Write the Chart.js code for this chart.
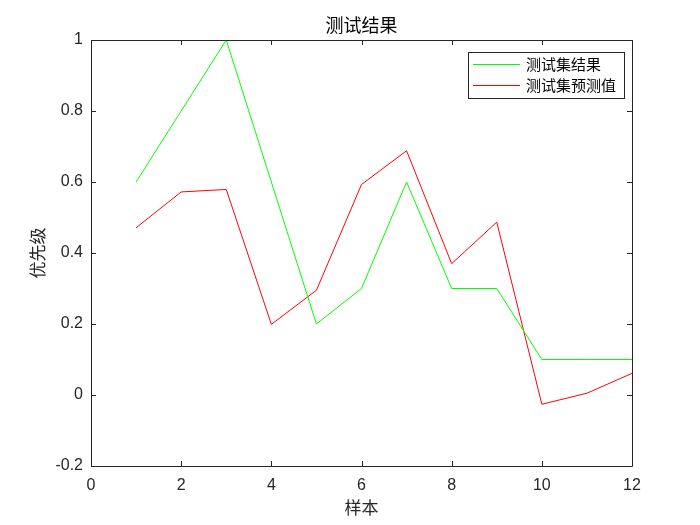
<!DOCTYPE html>
<html>
<head>
<meta charset="utf-8">
<script src="https://cdn.jsdelivr.net/npm/chart.js@4"></script>
<style>
html,body{margin:0;padding:0;background:#fff;}
canvas{display:block;}
</style>
</head>
<body>
<canvas id="c" width="700" height="525"></canvas>
<script>
const samples = [1,2,3,4,5,6,7,8,9,10,11,12];
const actual = [0.6,0.8,1.0,0.6,0.2,0.3,0.6,0.3,0.3,0.1,0.1,0.1];
const predicted = [0.471,0.572,0.579,0.199,0.295,0.593,0.688,0.370,0.487,-0.026,0.005,0.061];
const xTicks = [0,2,4,6,8,10,12];
const yTicks = [-0.2,0,0.2,0.4,0.6,0.8,1];

const axisColor = '#262626';
const cjk = '"Noto Sans CJK SC", "Noto Sans", sans-serif';
const num = '"Liberation Sans", Arial, sans-serif';

const boxTicks = {
  id: 'boxTicks',
  afterDatasetsDraw(chart) {
    const {ctx, chartArea: a, scales} = chart;
    ctx.save();
    ctx.strokeStyle = axisColor;
    ctx.lineWidth = 1;
    ctx.beginPath();
    ctx.rect(Math.round(a.left) + 0.5, Math.round(a.top) + 0.5, Math.round(a.right - a.left), Math.round(a.bottom - a.top));
    const L = 5;
    scales.x.ticks.forEach(t => {
      const px = Math.round(scales.x.getPixelForValue(t.value)) + 0.5;
      ctx.moveTo(px, a.bottom); ctx.lineTo(px, a.bottom - L);
      ctx.moveTo(px, a.top); ctx.lineTo(px, a.top + L);
    });
    scales.y.ticks.forEach(t => {
      const py = Math.round(scales.y.getPixelForValue(t.value)) + 0.5;
      ctx.moveTo(a.left, py); ctx.lineTo(a.left + L, py);
      ctx.moveTo(a.right, py); ctx.lineTo(a.right - L, py);
    });
    ctx.stroke();
    ctx.restore();
  }
};

new Chart(document.getElementById('c'), {
  type: 'line',
  data: {
    labels: samples,
    datasets: [
      {label: '测试集结果', data: samples.map((x,i)=>({x, y: actual[i]})), borderColor: '#00ff00', backgroundColor: '#00ff00', borderWidth: 1, pointRadius: 0, tension: 0, fill: false},
      {label: '测试集预测值', data: samples.map((x,i)=>({x, y: predicted[i]})), borderColor: '#ff0000', backgroundColor: '#ff0000', borderWidth: 1, pointRadius: 0, tension: 0, fill: false}
    ]
  },
  options: {
    responsive: false,
    animation: false,
    devicePixelRatio: 1,
    layout: {padding: {left: 0, right: 68, top: 0, bottom: 0}},
    plugins: {
      title: {display: true, text: '测试结果', fullSize: false, color: '#000', font: {family: cjk, size: 18, weight: 'normal', lineHeight: 1.2}, padding: {top: 14, bottom: 4.4}},
      legend: {display: false},
      tooltip: {enabled: false}
    },
    scales: {
      x: {
        type: 'linear', min: 0, max: 12,
        afterBuildTicks: s => { s.ticks = xTicks.map(v => ({value: v})); },
        afterFit: s => { s.height = 59; },
        grid: {display: false, drawTicks: false},
        border: {display: false},
        ticks: {color: axisColor, padding: 10, font: {family: num, size: 16}, maxRotation: 0, autoSkip: false},
        title: {display: true, text: '样本', color: '#262626', font: {family: cjk, size: 17, lineHeight: 1.2}, padding: {top: 0, bottom: 7}}
      },
      y: {
        type: 'linear', min: -0.2, max: 1,
        afterBuildTicks: s => { s.ticks = yTicks.map(v => ({value: v})); },
        afterFit: s => { s.width = 91; },
        grid: {display: false, drawTicks: false},
        border: {display: false},
        ticks: {color: axisColor, padding: 8, font: {family: num, size: 16}, autoSkip: false, callback: v => String(Math.round(v * 10) / 10)},
        title: {display: true, text: '优先级', color: '#262626', font: {family: cjk, size: 17, lineHeight: 1.2}, padding: {top: 27, bottom: 0}}
      }
    }
  },
  plugins: [boxTicks, {
    id: 'legendBox',
    afterDraw(chart) {
      const {ctx} = chart;
      const items = chart.data.datasets;
      const x0 = 468, y0 = 52, w = 156, h = 46;
      ctx.save();
      ctx.fillStyle = '#fff';
      ctx.fillRect(x0, y0, w, h);
      ctx.strokeStyle = axisColor;
      ctx.lineWidth = 1;
      ctx.strokeRect(x0 + 0.5, y0 + 0.5, w, h);
      ctx.font = '15px ' + cjk;
      ctx.textBaseline = 'middle';
      items.forEach((d, i) => {
        const cy = y0 + 12 + i * 21;
        ctx.strokeStyle = d.borderColor;
        ctx.beginPath();
        ctx.moveTo(x0 + 5, cy + 0.5); ctx.lineTo(x0 + 52, cy + 0.5);
        ctx.stroke();
        ctx.fillStyle = '#000';
        ctx.fillText(d.label, x0 + 58, cy);
      });
      ctx.restore();
    }
  }]
});
</script>
</body>
</html>
